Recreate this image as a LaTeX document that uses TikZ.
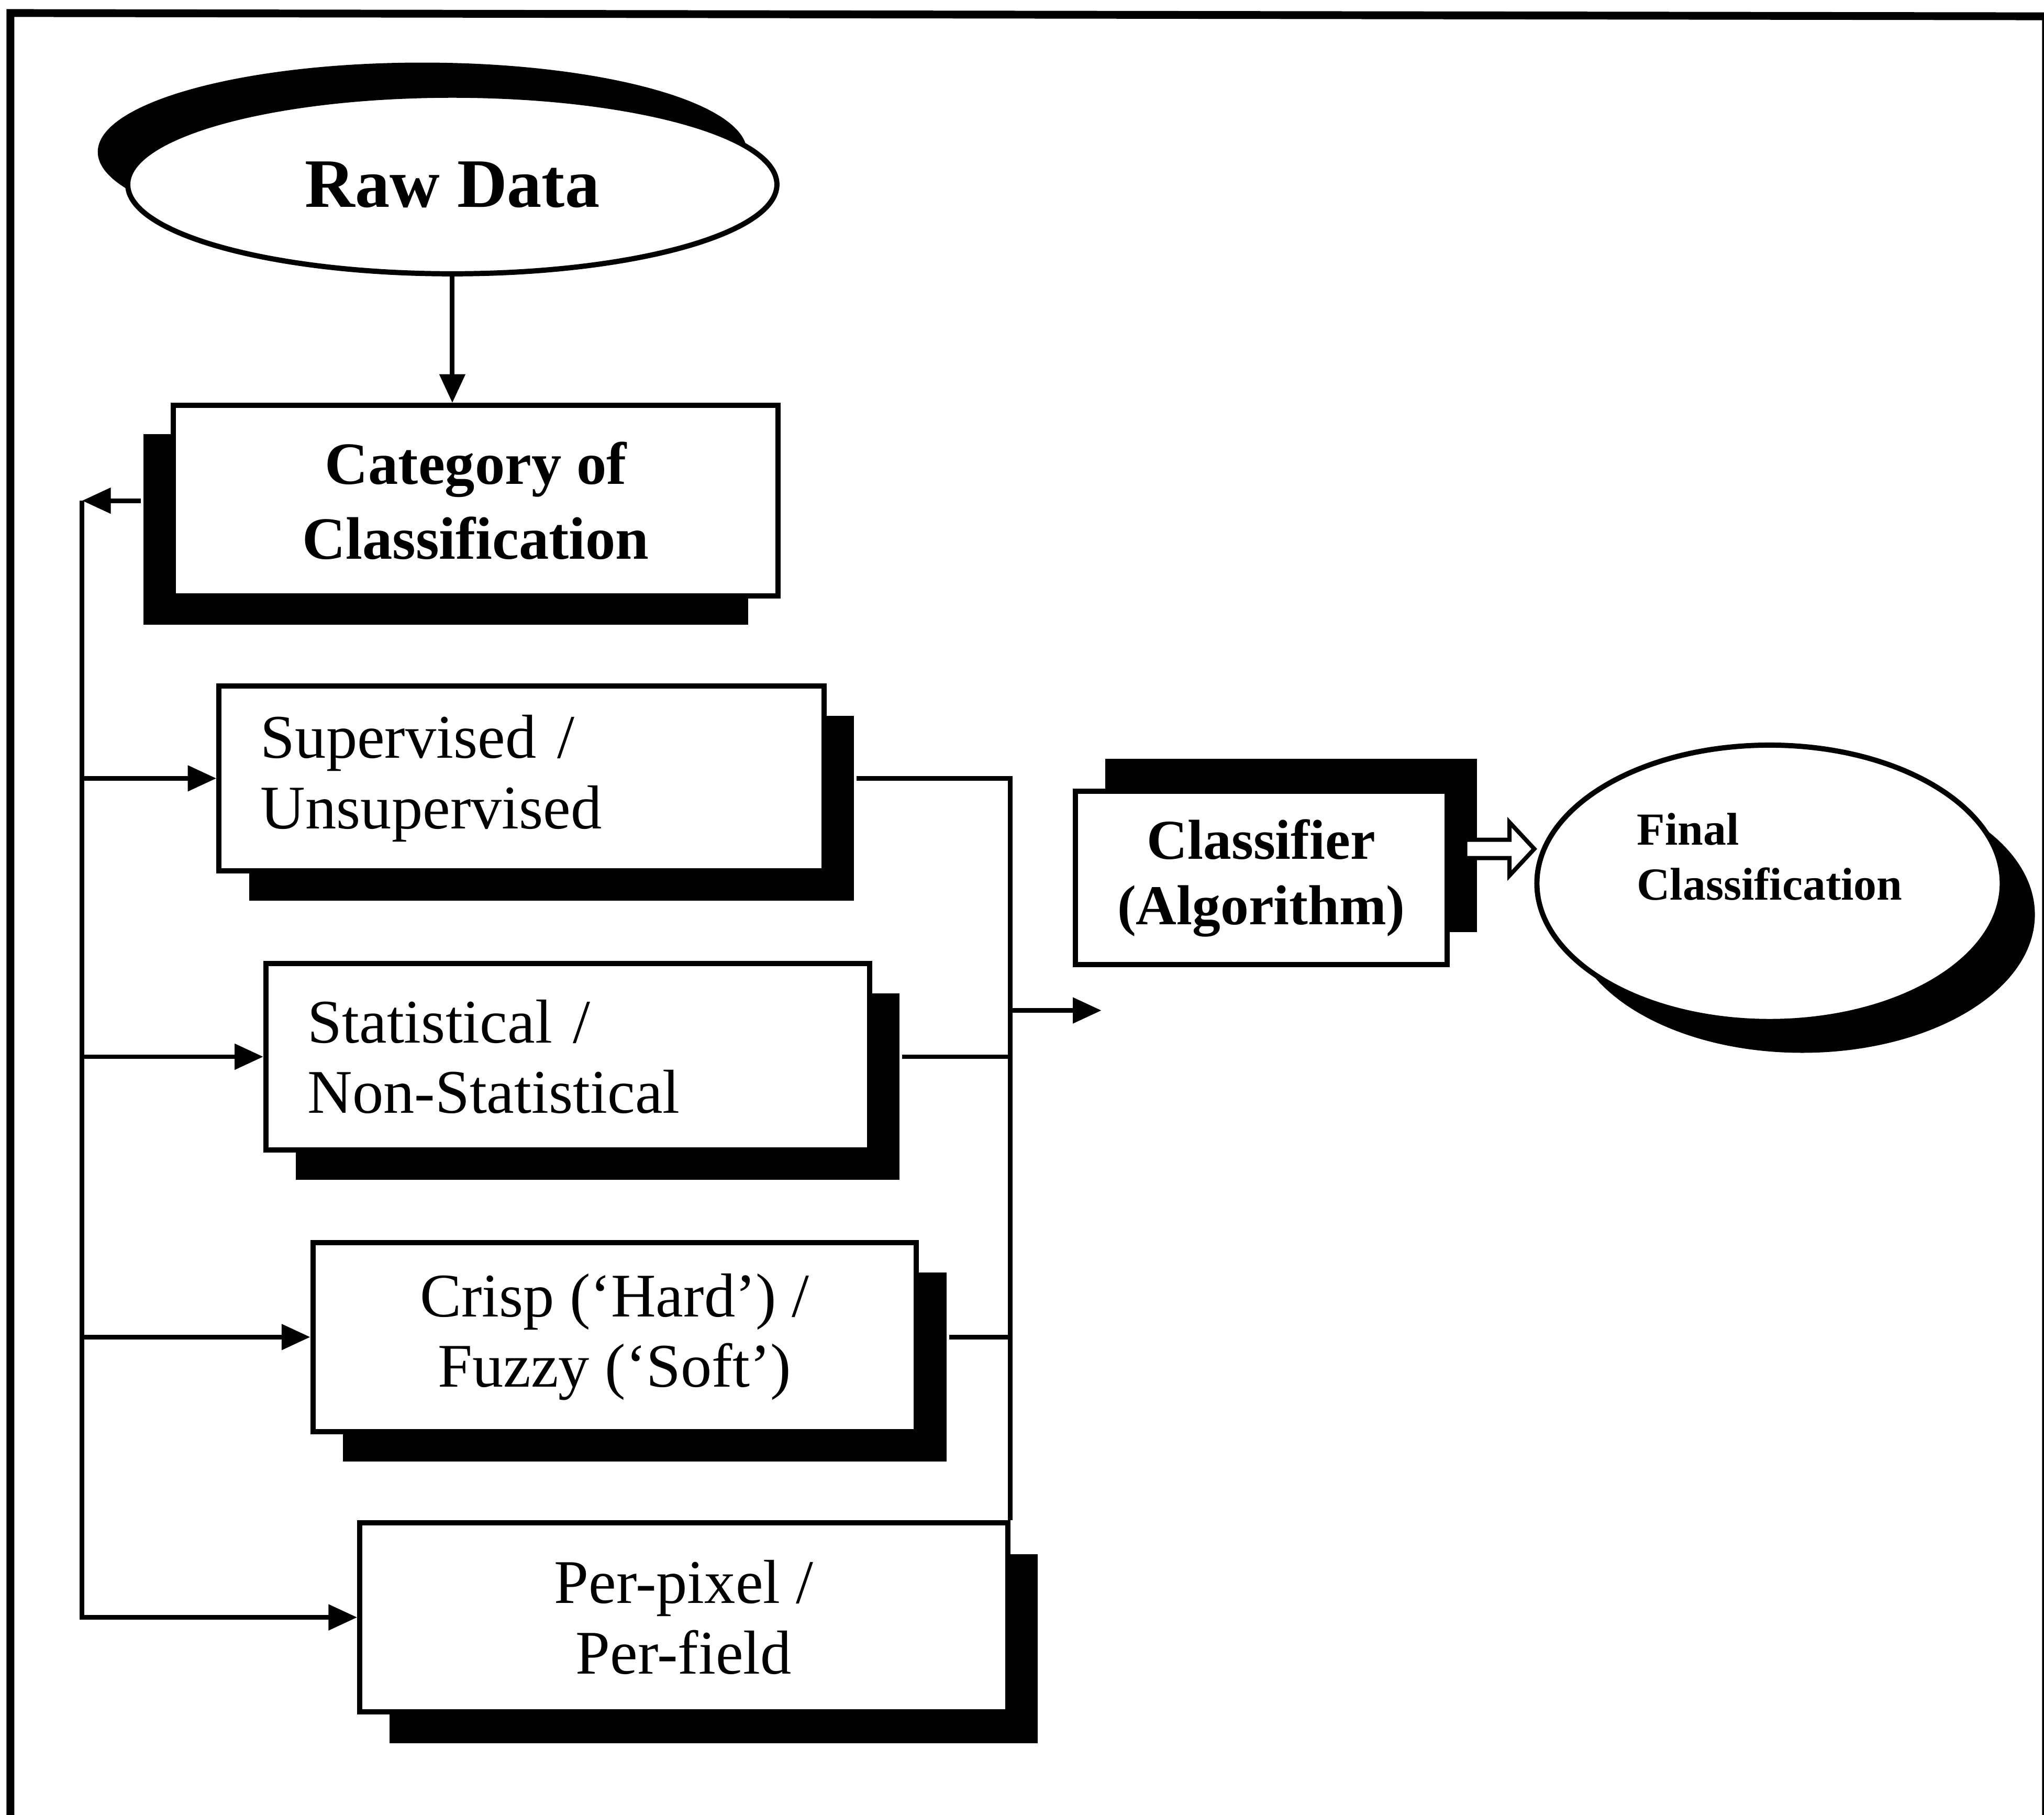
\documentclass[tikz,border=0pt]{standalone}
\usepackage{fontspec}
\setmainfont{Liberation Serif}
\usetikzlibrary{arrows.meta,shadows,shapes.geometric,calc}

\tikzset{
  conn/.style={line width=0.9pt},
  arr/.style={conn,-{Triangle[length=5.5pt,width=4.8pt]}},
  blackshadow/.style 2 args={drop shadow={shadow xshift=#1,shadow yshift=#2,fill=black,opacity=1}},
  boxbase/.style={draw,fill=white,line width=1pt,rectangle,inner sep=0pt},
  ovalbase/.style={draw,fill=white,line width=1pt,ellipse,inner sep=0pt},
  plainfont/.style={font=\fontsize{11.9}{13.5}\selectfont},
  leftbox/.style={boxbase,plainfont,inner xsep=8pt,text width=#1,align=left},
  centerbox/.style={boxbase,plainfont,align=center},
}

\begin{document}
\begin{tikzpicture}[x=0.25pt,y=-0.25pt]
  % page and outer frame
  \fill[white] (0,0) rectangle (1568,1392);
  \useasboundingbox (0,0) rectangle (1568,1392);
  \draw[line width=1.5pt] (8,1400) -- (8,10) -- (1569.5,12.5) -- (1569.5,1400);

  % top of the flow
  \node[ovalbase,minimum width=124.5pt,minimum height=34.25pt,
        blackshadow={-5.75pt}{6.25pt},
        font=\fontsize{13.3}{16}\selectfont\bfseries] (raw) at (347,141.5) {Raw Data};
  \node[boxbase,minimum width=116pt,minimum height=36.5pt,align=center,
        blackshadow={-5.75pt}{-5.5pt},
        font=\fontsize{11.5}{14.3}\selectfont\bfseries] (cat) at (365,384) {Category of\\Classification};

  % the four categories
  \node[leftbox=100pt,minimum height=35.5pt,blackshadow={5.75pt}{-5.75pt}]
        (b1) at (400,597) {Supervised /\\Unsupervised};
  \node[leftbox=99.75pt,minimum height=35.75pt,blackshadow={5.75pt}{-5.75pt}]
        (b2) at (435.5,810.5) {Statistical /\\Non-Statistical};
  \node[centerbox,minimum width=115.75pt,minimum height=36.25pt,blackshadow={5.75pt}{-5.75pt}]
        (b3) at (471.5,1025.5) {Crisp (‘Hard’) /\\Fuzzy (‘Soft’)};
  \node[centerbox,minimum width=124.25pt,minimum height=36.25pt,blackshadow={5.75pt}{-6pt}]
        (b4) at (524.5,1240.5) {Per-pixel /\\Per-field};

  % classifier and result
  \node[boxbase,minimum width=71.25pt,minimum height=33.25pt,align=center,
        blackshadow={5.75pt}{6.25pt},
        font=\fontsize{10.8}{12.5}\selectfont\bfseries] (clf) at (967.5,673.5) {Classifier\\(Algorithm)};
  \node[ovalbase,minimum width=89.25pt,minimum height=53pt,
        blackshadow={6.25pt}{-6pt},
        label={[align=left,yshift=5.1pt,font=\fontsize{8.8}{10.5}\selectfont\bfseries]center:Final\\Classification}]
        (fc) at (1357.5,677.5) {};

  % connectors
  \draw[arr] (raw.south) -- (raw.south |- cat.north);

  \coordinate (fb) at (63,384);
  \draw[arr] ([xshift=-5.75pt]cat.west) -- (fb);
  \draw[arr] (fb) |- (b4.west);
  \foreach \b in {b1,b2,b3}
    \draw[arr] (fb |- \b.west) -- (\b.west);

  \draw[conn] ([xshift=5.75pt]b1.east) -| (b4.north east);
  \draw[conn] ([xshift=5.75pt]b2.east) -- (b2.east -| b4.east);
  \draw[conn] ([xshift=5.75pt]b3.east) -- (b3.east -| b4.east);
  \coordinate (out) at (845,775);
  \draw[arr] (out -| b4.east) -- (out);

  % hollow block arrow from the classifier to the final classification
  \coordinate (ha) at ($(clf.east)+(3pt,5.6pt)$);
  \coordinate (hb) at (ha -| fc.west);
  \draw[fill=white,line width=0.8pt,line join=miter]
    ($(ha)+(0,1.75pt)$) -- ($(hb)+(-4.75pt,1.75pt)$) -- ($(hb)+(-4.75pt,5.1pt)$)
    -- (hb) -- ($(hb)+(-4.75pt,-5.1pt)$) -- ($(hb)+(-4.75pt,-1.75pt)$)
    -- ($(ha)+(0,-1.75pt)$) -- cycle;
\end{tikzpicture}
\end{document}
